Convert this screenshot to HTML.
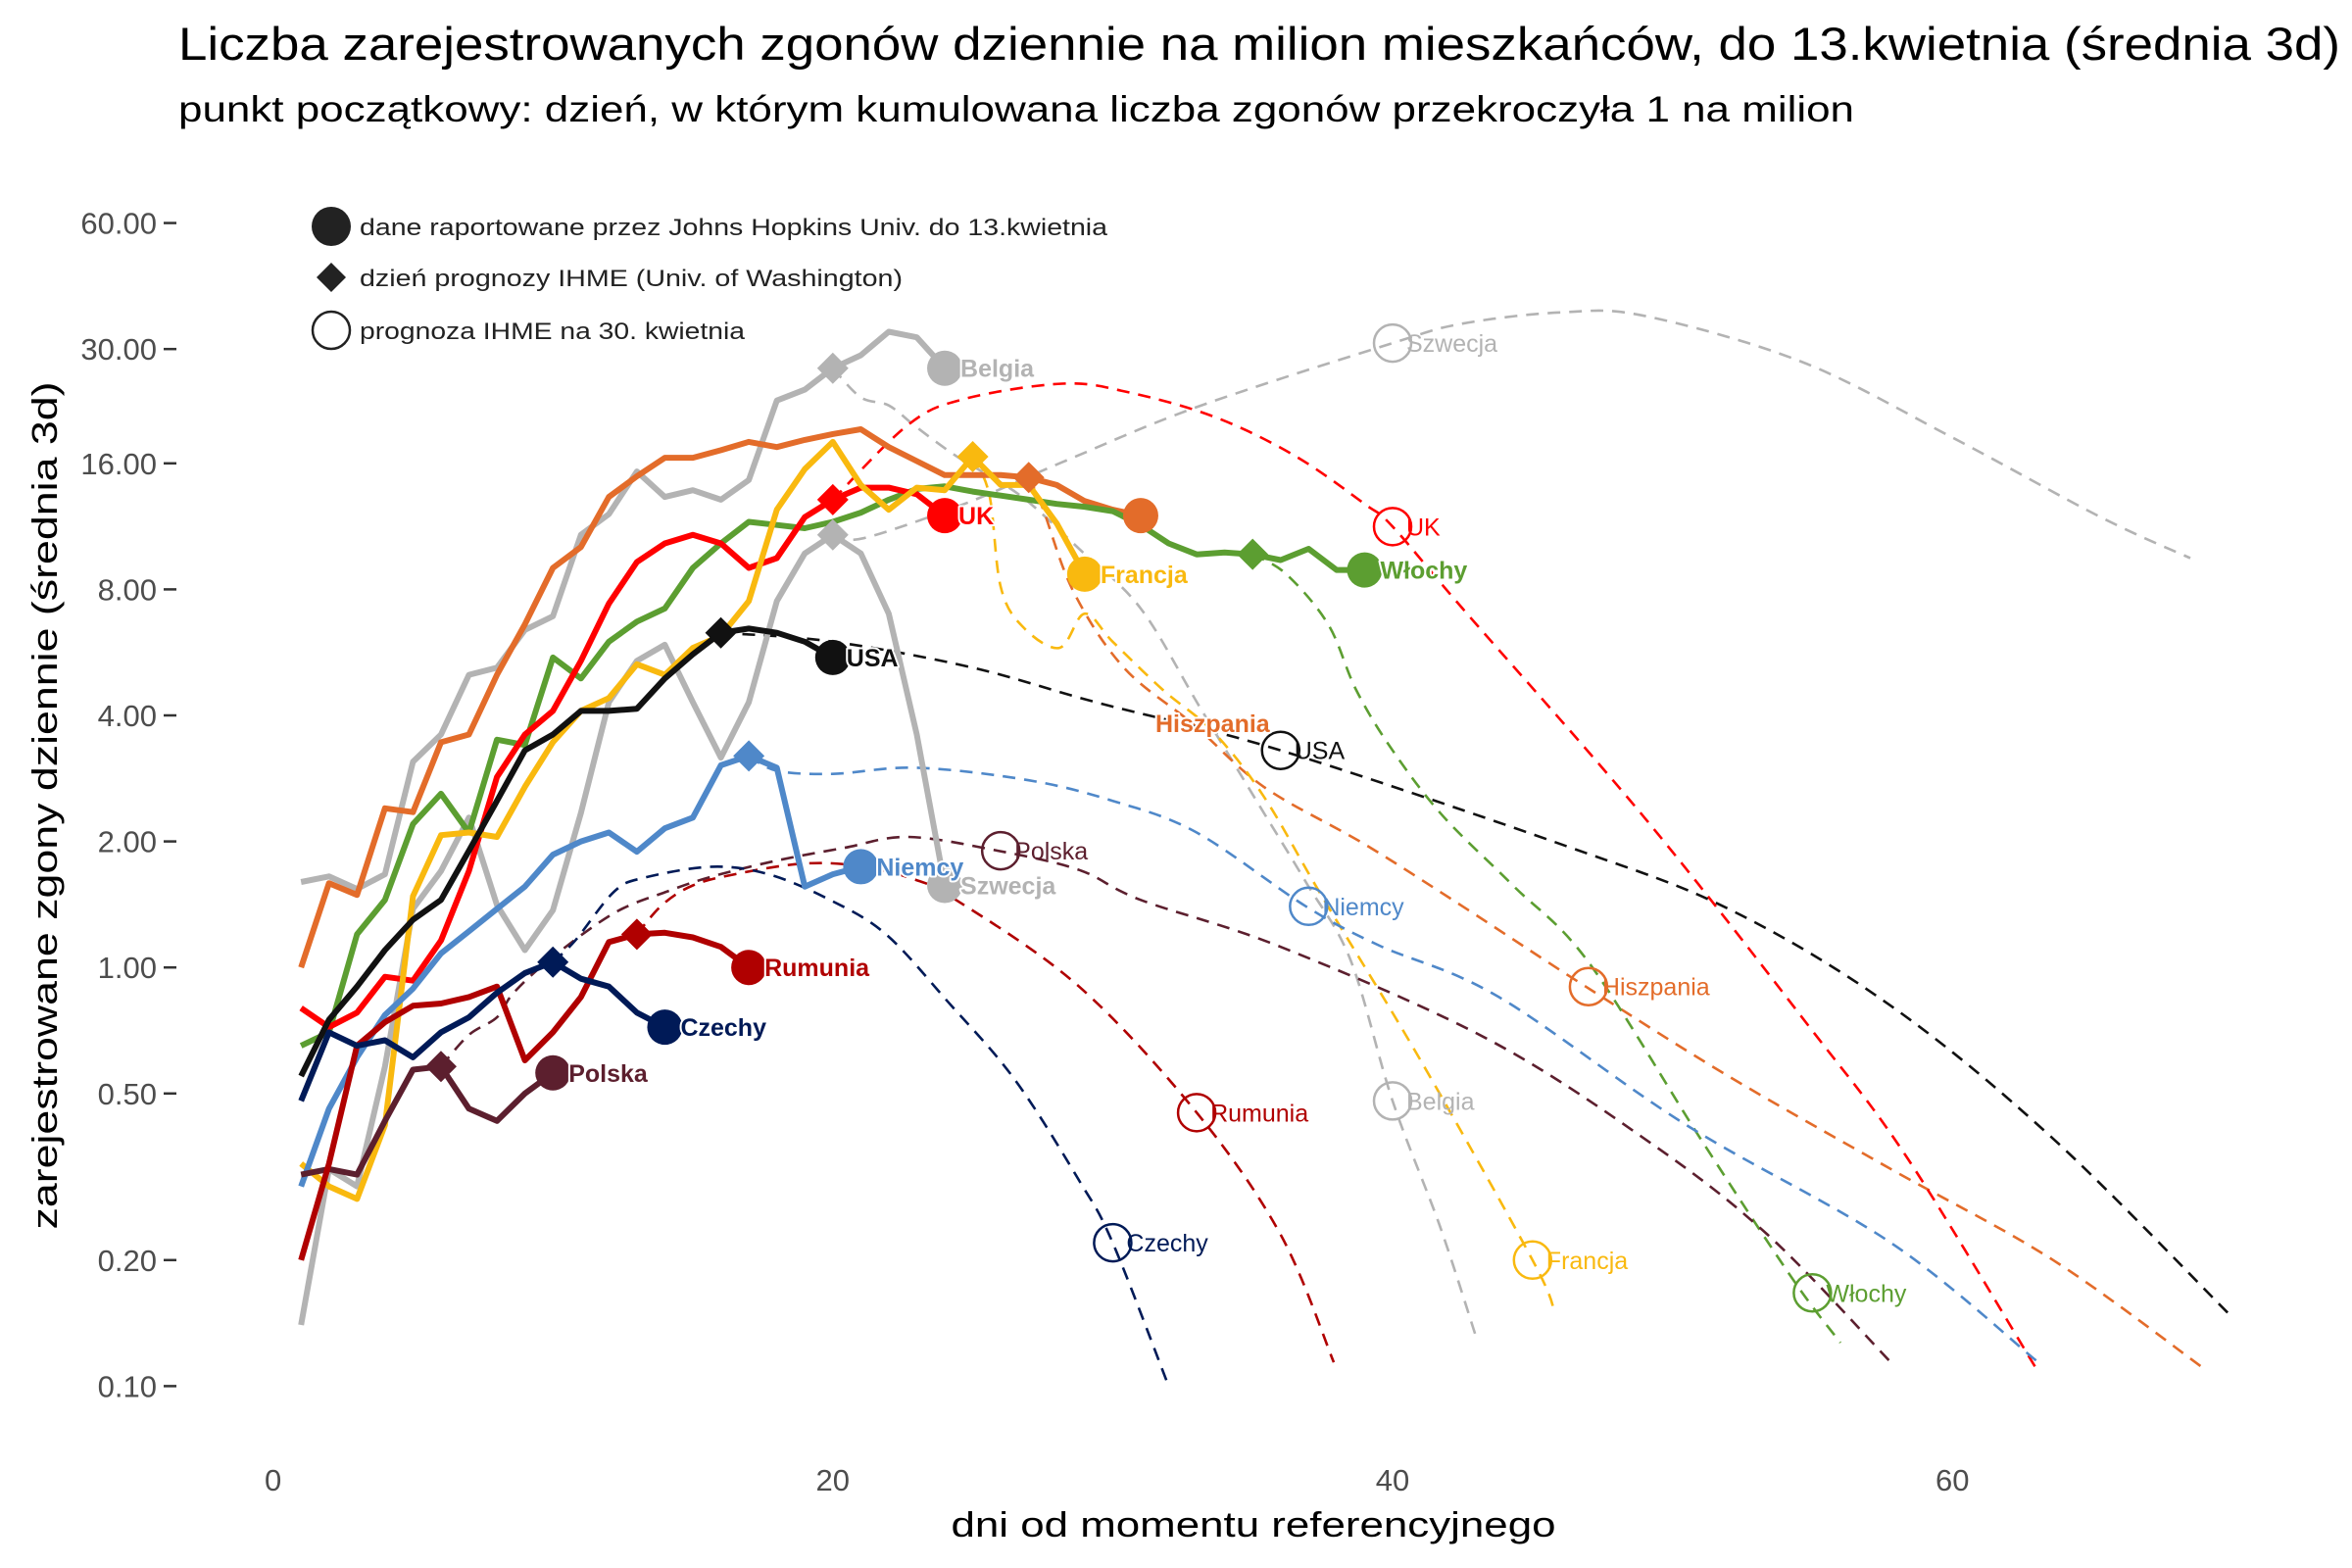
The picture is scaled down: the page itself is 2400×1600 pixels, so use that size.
<!DOCTYPE html>
<html><head><meta charset="utf-8"><style>
html,body{margin:0;padding:0;background:#fff;}
svg{display:block;font-family:"Liberation Sans","DejaVu Sans",sans-serif;}
</style></head><body>
<svg id="chart" xmlns="http://www.w3.org/2000/svg" width="2400" height="1600" viewBox="0 0 2400 1600">
<rect width="2400" height="1600" fill="#fff"/>
<text x="182" y="61" font-size="47" fill="#000" textLength="2206" lengthAdjust="spacingAndGlyphs">Liczba zarejestrowanych zgonów dziennie na milion mieszkańców, do 13.kwietnia (średnia 3d)</text>
<text x="182" y="124" font-size="37" fill="#000" textLength="1710" lengthAdjust="spacingAndGlyphs">punkt początkowy: dzień, w którym kumulowana liczba zgonów przekroczyła 1 na milion</text>
<text transform="translate(58,822) rotate(-90)" text-anchor="middle" font-size="36" fill="#000" textLength="865" lengthAdjust="spacingAndGlyphs">zarejestrowane zgony dziennie (średnia 3d)</text>
<text x="1279" y="1568" text-anchor="middle" font-size="36" fill="#000" textLength="617" lengthAdjust="spacingAndGlyphs">dni od momentu referencyjnego</text>
<g id="axes"></g>
<g id="fc"></g>
<g id="act"></g>
<g id="marks"></g>
<g id="labels"></g>
<g>
  <circle cx="338" cy="231" r="20" fill="#222"/>
  <text x="367" y="240" font-size="24" fill="#222" textLength="763" lengthAdjust="spacingAndGlyphs">dane raportowane przez Johns Hopkins Univ. do 13.kwietnia</text>
  <path d="M338 268 L353 283 L338 298 L323 283 Z" fill="#222"/>
  <text x="367" y="292" font-size="24" fill="#222" textLength="554" lengthAdjust="spacingAndGlyphs">dzień prognozy IHME (Univ. of Washington)</text>
  <circle cx="338" cy="337" r="19" fill="none" stroke="#222" stroke-width="2.5"/>
  <text x="367" y="346" font-size="24" fill="#222" textLength="393" lengthAdjust="spacingAndGlyphs">prognoza IHME na 30. kwietnia</text>
</g>
</svg>
<script>
// ---- axis data ----
const yTicks = [60, 30, 16, 8, 4, 2, 1, 0.5, 0.2, 0.1];
const yTickLabels = ["60.00","30.00","16.00","8.00","4.00","2.00","1.00","0.50","0.20","0.10"];
const xTicks = [0, 20, 40, 60];
const xTickLabels = ["0","20","40","60"];

// ---- series data (actual values from day 1) ----
const belgiaActual = [1.6,1.65,1.54,1.67,3.1,3.6,5.0,5.2,6.4,6.9,10.8,12.1,15.3,13.3,13.8,13.1,14.6,22.6,24,27,29,33,32,27];
const belgiaFcDays = [20,21,22,23,24.5,26.7,28.8,31,33.1,35.3,36.9,38.5,40,41.7,43];
const belgiaFcVals = [27,23,22,19.5,16.5,13.4,10,7.2,4.2,2.4,1.6,1.04,0.48,0.24,0.13];
const belgiaFcPoint = [40, 0.48];

const szwecjaActual = [0.14,0.33,0.3,0.58,1.38,1.7,2.28,1.41,1.1,1.37,2.34,4.3,5.4,5.9,4.3,3.17,4.3,7.5,9.75,10.8,9.75,7,3.6,1.57];
const szwecjaFcDays = [20,21.1,24.7,28.2,33,40,42.5,46,49,54.6,59.9,65.3,68.5];
const szwecjaFcVals = [10.8,10.6,12.8,16.1,21.8,31,34.5,36.7,36,28,18.6,11.9,9.5];
const szwecjaFcPoint = [40, 31];

const hiszpaniaActual = [1.0,1.59,1.49,2.4,2.35,3.45,3.6,5.0,6.6,9,10.1,13.3,14.9,16.5,16.5,17.2,18,17.5,18.2,18.8,19.3,17.5,16.2,15,15,15,14.8,14.2,13,12.4,12];
const hiszpaniaFcDays = [27,27.5,28.6,30.4,32.9,35.4,39,42.5,46.9,52,57.8,63.6,69];
const hiszpaniaFcVals = [14.8,12.5,7.9,5.2,3.8,2.7,1.97,1.4,0.9,0.55,0.33,0.2,0.11];
const hiszpaniaFcPoint = [47, 0.9];

const wlochyActual = [0.65,0.7,1.2,1.45,2.2,2.6,2.1,3.5,3.4,5.5,4.9,6,6.7,7.2,9,10.3,11.6,11.4,11.2,11.6,12.2,13.1,13.9,14.1,13.7,13.4,13.1,12.8,12.6,12.3,11.4,10.3,9.7,9.8,9.7,9.4,10,8.9,8.9];
const wlochyFcDays = [35,36.2,37.7,38.7,40,41.8,44.3,47,51,54.3,56];
const wlochyFcVals = [9.7,8.7,6.6,4.6,3.3,2.3,1.57,1.03,0.39,0.18,0.127];
const wlochyFcPoint = [55, 0.167];

const ukActual = [0.8,0.72,0.78,0.95,0.93,1.16,1.7,2.85,3.6,4.1,5.4,7.4,9.3,10.3,10.8,10.3,9,9.5,11.9,13.1,14,14,13.5,12];
const ukFcDays = [20,22.7,24.7,28.2,30.5,33.6,36.5,39,40,42.5,49,54.9,58.4,63];
const ukFcVals = [13.1,19.8,22.8,24.8,23.7,20.7,16.7,12.8,11.3,7.2,2.28,0.72,0.35,0.11];
const ukFcPoint = [40, 11.3];

const francjaActual = [0.34,0.3,0.28,0.42,1.48,2.07,2.1,2.05,2.7,3.45,4.1,4.4,5.3,5.0,5.8,6.2,7.5,12.4,15.5,18,14.2,12.4,14,13.8,16.6,14.2,14.2,11.5,8.7];
const francjaFcDays = [25,25.6,26,26.8,28.1,29,30,31.8,33.6,35.4,37.5,41,45,45.8];
const francjaFcVals = [16.6,13.4,8.1,6.5,5.8,7,6,4.6,3.65,2.56,1.47,0.6,0.2,0.15];
const francjaFcPoint = [45, 0.2];

const usaActual = [0.55,0.75,0.9,1.1,1.3,1.45,1.9,2.5,3.3,3.6,4.1,4.1,4.15,4.9,5.6,6.3,6.45,6.3,6.0,5.5];
const usaFcDays = [16,20,25,29.4,36,46.2,52,57.8,63.6,70];
const usaFcVals = [6.3,6.0,5.2,4.3,3.3,1.95,1.38,0.81,0.39,0.146];
const usaFcPoint = [36, 3.3];

const niemcyActual = [0.3,0.46,0.61,0.77,0.89,1.08,1.22,1.38,1.56,1.86,2.0,2.1,1.89,2.15,2.28,3.04,3.2,3.0,1.56,1.67,1.74];
const niemcyFcDays = [17,18,20,23,27,30,33,36.9,39.5,43.8,50.5,57.8,63];
const niemcyFcVals = [3.2,2.95,2.9,3.0,2.8,2.5,2.1,1.4,1.13,0.85,0.42,0.22,0.115];
const niemcyFcPoint = [37, 1.4];

const polskaActual = [0.32,0.33,0.32,0.43,0.57,0.58,0.46,0.43,0.5,0.56];
const polskaFcDays = [6,7,8,8.6,10,12.2,14.1,15.7,18,20.4,22.7,25.9,28.8,31,36,43.3,49,53.4,57.8];
const polskaFcVals = [0.58,0.69,0.76,0.87,1.06,1.35,1.52,1.65,1.8,1.93,2.05,1.9,1.71,1.45,1.12,0.68,0.39,0.23,0.114];
const polskaFcPoint = [26, 1.9];

const rumuniaActual = [0.2,0.34,0.65,0.74,0.81,0.82,0.85,0.9,0.6,0.7,0.85,1.15,1.2,1.21,1.18,1.12,1.0];
const rumuniaFcDays = [13,13.9,15,16.5,18.9,20.9,22.7,24.4,28.8,33,36,37.9];
const rumuniaFcVals = [1.2,1.41,1.57,1.67,1.77,1.75,1.64,1.45,0.9,0.45,0.23,0.114];
const rumuniaFcPoint = [33, 0.45];

const czechyActual = [0.48,0.7,0.65,0.67,0.61,0.7,0.76,0.87,0.97,1.03,0.94,0.9,0.78,0.72];
const czechyFcDays = [10,10.8,12.2,13.3,15.7,17.7,19.9,21.9,24.1,26.5,28.8,30,32];
const czechyFcVals = [1.03,1.16,1.52,1.64,1.74,1.67,1.45,1.2,0.83,0.54,0.31,0.22,0.1];
const czechyFcPoint = [30, 0.22];

const countryNames = ["Belgia","Szwecja","Hiszpania","Włochy","UK","Francja","USA","Niemcy","Polska","Rumunia","Czechy"];
const countryKeys = ["belgia","szwecja","hiszpania","wlochy","uk","francja","usa","niemcy","polska","rumunia","czechy"];
const countryColors = ["#b3b3b3","#b3b3b3","#e36c2a","#5c9e31","#ff0000","#f9b90f","#111111","#4f88c9","#5c1f2e","#b00000","#001a57"];
const series = [
 [belgiaActual,belgiaFcDays,belgiaFcVals,belgiaFcPoint],
 [szwecjaActual,szwecjaFcDays,szwecjaFcVals,szwecjaFcPoint],
 [hiszpaniaActual,hiszpaniaFcDays,hiszpaniaFcVals,hiszpaniaFcPoint],
 [wlochyActual,wlochyFcDays,wlochyFcVals,wlochyFcPoint],
 [ukActual,ukFcDays,ukFcVals,ukFcPoint],
 [francjaActual,francjaFcDays,francjaFcVals,francjaFcPoint],
 [usaActual,usaFcDays,usaFcVals,usaFcPoint],
 [niemcyActual,niemcyFcDays,niemcyFcVals,niemcyFcPoint],
 [polskaActual,polskaFcDays,polskaFcVals,polskaFcPoint],
 [rumuniaActual,rumuniaFcDays,rumuniaFcVals,rumuniaFcPoint],
 [czechyActual,czechyFcDays,czechyFcVals,czechyFcPoint]
];

// ---- axis functions ----
function xScale(d){ return 278.6 + d * 28.56; }
function yScale(v){ return 987.2 - 128.6 * Math.log2(v); }

const NS = "http://www.w3.org/2000/svg";
function mk(tag, attrs, parent){
  const e = document.createElementNS(NS, tag);
  for (const k in attrs) e.setAttribute(k, attrs[k]);
  parent.appendChild(e);
  return e;
}
const axes = document.getElementById("axes");
const fcG = document.getElementById("fc");
const actG = document.getElementById("act");
const marksG = document.getElementById("marks");
const labG = document.getElementById("labels");

yTicks.forEach((v, i) => {
  const y = yScale(v);
  const t = mk("line", {x1:167, x2:180, y1:y, y2:y, stroke:"#333", "stroke-width":2.5}, axes);
  
  
  const l = mk("text", {x:160, y:y+11, "text-anchor":"end", "font-size":31, fill:"#4d4d4d"}, axes);
  
  
  l.textContent = yTickLabels[i];
});
xTicks.forEach((d, i) => {
  const x = xScale(d);
  const l = mk("text", {x:x, y:1521, "text-anchor":"middle", "font-size":31, fill:"#4d4d4d"}, axes);
  
  
  l.textContent = xTickLabels[i];
});

function smoothPath(pts){
  let d = "M" + pts[0][0].toFixed(1) + " " + pts[0][1].toFixed(1);
  for (let i = 0; i < pts.length - 1; i++){
    const p0 = pts[Math.max(0,i-1)], p1 = pts[i], p2 = pts[i+1], p3 = pts[Math.min(pts.length-1,i+2)];
    const c1x = p1[0] + (p2[0]-p0[0])/6, c1y = p1[1] + (p2[1]-p0[1])/6;
    const c2x = p2[0] - (p3[0]-p1[0])/6, c2y = p2[1] - (p3[1]-p1[1])/6;
    d += " C" + c1x.toFixed(1)+" "+c1y.toFixed(1)+" "+c2x.toFixed(1)+" "+c2y.toFixed(1)+" "+p2[0].toFixed(1)+" "+p2[1].toFixed(1);
  }
  return d;
}

const actLabelDx = [16,16,0,16,14,16,14,16,16,16,16];

series.forEach((s, i) => {
  const [act, fd, fv, fp] = s;
  const col = countryColors[i];
  const key = countryKeys[i];
  const fpts = fd.map((d, j) => [xScale(d), yScale(fv[j])]);
  const fl = mk("path", {d:smoothPath(fpts), fill:"none", stroke:col, "stroke-width":2.6, "stroke-dasharray":"13 9"}, fcG);
  
  
  const fcx = xScale(fp[0]), fcy = yScale(fp[1]);
  const fc = mk("circle", {cx:fcx, cy:fcy, r:19, fill:"none", stroke:col, "stroke-width":2.5}, marksG);
  
  
  const ft = mk("text", {x:fcx+14, y:fcy+9, "font-size":25, fill:col}, labG);
  
  
  ft.textContent = countryNames[i];
});

series.forEach((s, i) => {
  const [act, fd, fv, fp] = s;
  const col = countryColors[i];
  const key = countryKeys[i];
  const pts = act.map((v, j) => xScale(j+1).toFixed(1) + "," + yScale(v).toFixed(1)).join(" ");
  const pl = mk("polyline", {points:pts, fill:"none", stroke:col, "stroke-width":6, "stroke-linejoin":"round"}, actG);
  
  
  const dx = xScale(fd[0]), dy = yScale(fv[0]), h = 16;
  const dm = mk("path", {d:"M"+dx+" "+(dy-h)+" L"+(dx+h)+" "+dy+" L"+dx+" "+(dy+h)+" L"+(dx-h)+" "+dy+" Z", fill:col}, marksG);
  
  
  const ex = xScale(act.length), ey = yScale(act[act.length-1]);
  const ec = mk("circle", {cx:ex, cy:ey, r:18, fill:col}, marksG);
  
  
  let lx = ex + actLabelDx[i], ly = ey + 9;
  if (key === "hiszpania"){ lx = 1179; ly = 747; }
  const lt = mk("text", {x:lx, y:ly, "font-size":25, "font-weight":"bold", fill:col, stroke:"#fff", "stroke-width":4, "paint-order":"stroke", "stroke-linejoin":"round"}, labG);
  
  
  lt.textContent = countryNames[i];
});
</script>
</body></html>
